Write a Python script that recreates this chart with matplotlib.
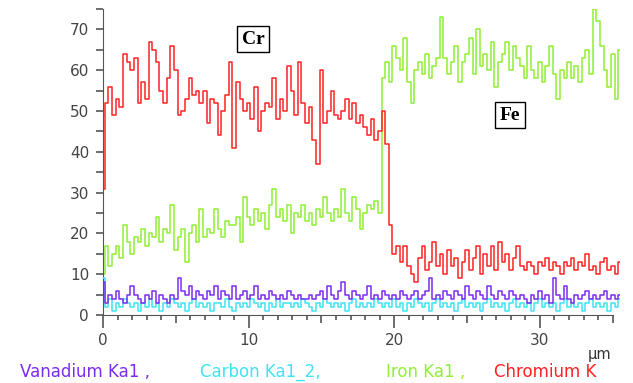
import numpy as np
from matplotlib import pyplot as plt

# profil EDS le long de la ligne, un point tous les 0.25 um
pas = 0.25

chrome = [31, 52, 56, 49,
          53, 51, 64, 62,
          60, 63, 52, 57,
          53, 67, 65, 62,
          55, 52, 58, 66,
          60, 49, 50, 53,
          58, 54, 55, 52,
          55, 47, 53, 52,
          44, 50, 54, 62,
          41, 57, 53, 50,
          52, 48, 56, 45,
          50, 52, 51, 58,
          48, 53, 50, 61,
          55, 49, 62, 52,
          47, 51, 43, 37,
          60, 47, 50, 55,
          49, 48, 50, 53,
          48, 52, 47, 49,
          46, 44, 48, 43,
          45, 50, 42, 22,
          15, 17, 13, 17,
          12, 10, 8, 14,
          17, 11, 13, 18,
          12, 15, 10, 16,
          12, 14, 9, 13,
          16, 11, 14, 17,
          10, 15, 12, 17,
          11, 18, 13, 15,
          11, 14, 17, 12,
          11, 13, 12, 10,
          13, 12, 14, 11,
          13, 12, 10, 13,
          12, 14, 11, 13,
          12, 15, 11, 12,
          10, 13, 14, 11,
          12, 10, 13]

fer = [10, 17, 12, 15,
       17, 14, 22, 18,
       15, 19, 18, 21,
       17, 20, 19, 24,
       18, 21, 20, 27,
       16, 19, 21, 13,
       20, 22, 18, 26,
       19, 21, 20, 26,
       21, 19, 23, 22,
       22, 24, 18, 29,
       24, 22, 26, 23,
       25, 21, 27, 31,
       24, 26, 23, 27,
       20, 25, 24, 27,
       23, 25, 22, 26,
       24, 29, 25, 23,
       26, 24, 31, 25,
       23, 29, 26, 21,
       25, 27, 26, 28,
       25, 58, 62, 57,
       66, 63, 60, 68,
       57, 52, 60, 62,
       59, 64, 58, 61,
       63, 73, 63, 59,
       62, 66, 57, 62,
       64, 68, 59, 70,
       61, 64, 60, 67,
       56, 62, 64, 67,
       60, 66, 63, 61,
       58, 66, 60, 58,
       62, 57, 61, 66,
       59, 53, 60, 58,
       62, 58, 61, 57,
       63, 65, 59, 75,
       72, 66, 60, 56,
       64, 53, 65]

vanadium = [8, 3, 5, 4, 6, 4, 3, 5, 7, 5, 4, 3, 5, 4, 6, 3,
            5, 4, 3, 5, 4, 9, 6, 5, 7, 4, 6, 5, 4, 6, 5, 7,
            4, 6, 5, 4, 7, 4, 5, 6, 4, 5, 7, 4, 5, 4, 6, 5,
            4, 5, 4, 6, 5, 4, 5, 4, 4, 5, 4, 5, 6, 4, 7, 5,
            4, 6, 8, 5, 4, 6, 5, 4, 5, 7, 4, 5, 4, 6, 5, 4,
            5, 4, 6, 5, 4, 5, 6, 4, 5, 6, 9, 4, 5, 4, 6, 5,
            4, 6, 5, 4, 7, 5, 4, 6, 5, 4, 7, 5, 4, 6, 5, 4,
            6, 5, 4, 5, 4, 3, 5, 4, 6, 4, 5, 3, 9, 5, 4, 7,
            4, 3, 5, 4, 5, 6, 4, 5, 4, 5, 6, 4, 5, 4, 5]

carbone = [9, 2, 4, 1, 3, 2, 4, 3, 2, 3, 1, 3, 2, 4, 2, 3,
           1, 3, 2, 4, 3, 2, 3, 1, 3, 4, 2, 3, 2, 3, 1, 3,
           3, 2, 4, 2, 1, 3, 2, 3, 2, 4, 3, 2, 3, 1, 3, 2,
           4, 2, 3, 3, 2, 3, 2, 4, 3, 2, 1, 3, 2, 4, 3, 2,
           3, 2, 3, 1, 3, 4, 2, 3, 2, 3, 2, 4, 3, 2, 3, 2,
           4, 2, 3, 1, 3, 2, 4, 3, 2, 3, 1, 3, 4, 2, 3, 2,
           3, 1, 3, 4, 2, 3, 2, 3, 1, 3, 4, 2, 3, 2, 3, 1,
           3, 4, 2, 3, 2, 3, 1, 3, 4, 2, 3, 2, 3, 1, 3, 4,
           2, 3, 2, 3, 1, 3, 4, 2, 3, 2, 3, 1, 3, 2, 4]

noms = ['Vanadium Ka1 ,', 'Carbon Ka1_2,', 'Iron Ka1 ,', 'Chromium K']
couleurs = ['#7b2cf0', '#3fe3f2', '#8ff033', '#ff2222']
x_noms = [20, 200, 386, 494]

fig = plt.figure(figsize=(6.33, 3.83), dpi=100)
ax = fig.add_axes([103/633, 68/383, 517/633, 306/383])

X = np.arange(len(chrome))*pas
ax.plot(X, fer, color=couleurs[2], lw=1.1, drawstyle='steps-mid', zorder=2)
ax.plot(X, chrome, color=couleurs[3], lw=1.1, drawstyle='steps-mid', zorder=3)
ax.plot(X, carbone, color=couleurs[1], lw=1.1, drawstyle='steps-mid', zorder=4)
ax.plot(X, vanadium, color=couleurs[0], lw=1.1, drawstyle='steps-mid', zorder=5)

ax.set_xlim(0, 35.5)
ax.set_ylim(0, 75)
for s in ['top', 'right']:
    ax.spines[s].set_visible(False)
ax.spines['left'].set_color('#555555')
ax.spines['bottom'].set_color('#555555')
ax.spines['bottom'].set_bounds(0, 35)

ax.set_yticks(range(0, 80, 10))
ax.set_yticks(range(5, 80, 10), minor=True)
ax.tick_params(axis='y', which='both', direction='out', length=5, width=1.2,
               color='#555555', labelcolor='#444444', labelsize=11, pad=5)

ax.set_xticks(range(0, 36, 5))
ax.set_xticklabels(['0', '', '10', '', '20', '', '30', ''])
ax.set_xticks(range(0, 36), minor=True)
ax.tick_params(axis='x', which='major', direction='out', length=9, width=1.2,
               color='#555555', labelcolor='#444444', labelsize=11, pad=4)
ax.tick_params(axis='x', which='minor', direction='out', length=3.5, width=1.2,
               color='#555555')
# les graduations de 5 en 5 sont plus courtes
for v, t in zip(range(0, 36, 5), ax.xaxis.get_major_ticks()):
    if v % 10:
        t.tick1line.set_markersize(6)

fig.text(600/633, 1-354/383, 'μm', ha='center', va='center', fontsize=10.5, color='#333333')
for nom, c, xn in zip(noms, couleurs, x_noms):
    fig.text(xn/633, 1-372/383, nom, color=c, ha='left', va='center', fontsize=12)

boite = dict(boxstyle='square,pad=0.25', fc='white', ec='black', lw=1)
fig.text(253/633, 1-39/383, 'Cr', ha='center', va='center', fontsize=14,
         fontweight='bold', family='Liberation Serif', bbox=boite)
fig.text(510/633, 1-115/383, 'Fe', ha='center', va='center', fontsize=14,
         fontweight='bold', family='Liberation Serif', bbox=boite)

plt.savefig('out.png', dpi=100)
plt.close(fig)
